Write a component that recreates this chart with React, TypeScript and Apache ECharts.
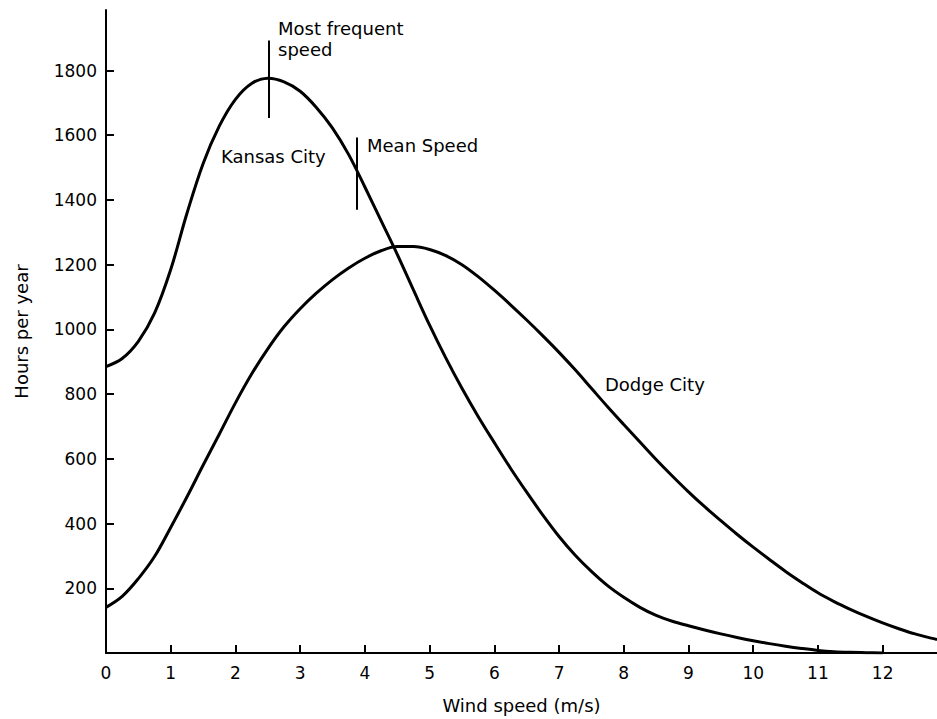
import React, { useEffect, useRef } from "react";
import * as echarts from "echarts";

const windSpeed = [
  0, 0.25, 0.5, 0.75, 1, 1.25, 1.5, 1.75, 2, 2.25, 2.5, 2.75, 3, 3.25, 3.5, 3.75,
  4, 4.25, 4.5, 4.75, 5, 5.25, 5.5, 5.75, 6, 6.25, 6.5, 6.75, 7, 7.25, 7.5, 7.75,
  8, 8.25, 8.5, 8.75, 9, 9.25, 9.5, 9.75, 10, 10.25, 10.5, 10.75, 11, 11.25, 11.5, 11.75,
  12, 12.25, 12.5, 12.75, 12.84,
];
const kansasCity = [
  885, 910, 963, 1050, 1185, 1358, 1512, 1628, 1711, 1760, 1776, 1765, 1736, 1686, 1622, 1540,
  1440, 1336, 1232, 1122, 1013, 912, 818, 731, 650, 571, 497, 426, 360, 302, 252, 208,
  172, 141, 116, 98, 84, 71, 59, 48, 38, 29, 21, 14, 8, 4, 2, 1,
  0, null, null, null, null,
];
const dodgeCity = [
  141, 175, 230, 298, 388, 482, 580, 676, 773, 862, 940, 1008, 1064, 1112, 1154, 1190,
  1220, 1243, 1256, 1256, 1247, 1228, 1200, 1163, 1121, 1076, 1029, 980, 929, 875, 818, 761,
  706, 652, 598, 547, 498, 452, 409, 367, 327, 289, 252, 218, 186, 159, 135, 113,
  93, 75, 59, 46, 42,
];
const xTicks = [0, 1, 2, 3, 4, 5, 6, 7, 8, 9, 10, 11, 12];
const yTicks = [200, 400, 600, 800, 1000, 1200, 1400, 1600, 1800];
const mostFrequent = { speed: 2.51, from: 1653, to: 1893 };
const meanSpeed = { speed: 3.87, from: 1370, to: 1593 };

const FONT = "DejaVu Sans";

export default function App() {
  const ref = useRef<HTMLDivElement>(null);
  useEffect(() => {
    if (!ref.current) return;
    const chart = echarts.init(ref.current, null, { renderer: "svg" });
    const pairs = (ys: (number | null)[]) => windSpeed.map((x, i) => [x, ys[i]]);
    const textStyle = { fill: "#000", font: `18px "${FONT}"`, verticalAlign: "middle" as const };
    chart.setOption({
      animation: false,
      backgroundColor: "#fff",
      grid: { left: 106, right: 0, top: 10, bottom: 65, containLabel: false },
      xAxis: {
        type: "value",
        min: 0,
        max: 12.84,
        interval: 1,
        name: "Wind speed (m/s)",
        nameLocation: "middle",
        nameGap: 43,
        nameTextStyle: { color: "#000", fontFamily: FONT, fontSize: 18, verticalAlign: "top" },
        axisLine: { show: true, lineStyle: { color: "#000", width: 2 } },
        axisTick: { show: true, inside: true, length: 8, lineStyle: { color: "#000", width: 2 }, customValues: xTicks },
        axisLabel: { color: "#000", fontFamily: FONT, fontSize: 17, margin: 11, customValues: xTicks, formatter: (v: number) => String(v) },
        splitLine: { show: false },
      },
      yAxis: {
        type: "value",
        min: 0,
        max: 1987,
        interval: 200,
        name: "Hours per year",
        nameLocation: "middle",
        nameGap: 76,
        nameRotate: 90,
        nameTextStyle: { color: "#000", fontFamily: FONT, fontSize: 18 },
        axisLine: { show: true, lineStyle: { color: "#000", width: 2 } },
        axisTick: { show: true, inside: true, length: 8, lineStyle: { color: "#000", width: 2 }, customValues: yTicks },
        axisLabel: { color: "#000", fontFamily: FONT, fontSize: 17, margin: 9, customValues: yTicks, formatter: (v: number) => String(v) },
        splitLine: { show: false },
      },
      series: [
        {
          name: "Kansas City",
          type: "line",
          data: pairs(kansasCity),
          smooth: 0.35,
          showSymbol: false,
          connectNulls: false,
          lineStyle: { color: "#000", width: 3 },
          itemStyle: { color: "#000" },
          markLine: {
            symbol: "none",
            silent: true,
            label: { show: false },
            lineStyle: { color: "#000", width: 2, type: "solid" },
            data: [
              [{ coord: [mostFrequent.speed, mostFrequent.from] }, { coord: [mostFrequent.speed, mostFrequent.to] }],
              [{ coord: [meanSpeed.speed, meanSpeed.from] }, { coord: [meanSpeed.speed, meanSpeed.to] }],
            ],
          },
        },
        {
          name: "Dodge City",
          type: "line",
          data: pairs(dodgeCity),
          smooth: 0.35,
          showSymbol: false,
          lineStyle: { color: "#000", width: 3 },
          itemStyle: { color: "#000" },
        },
      ],
      graphic: [
        { type: "text", left: 278, top: 18, style: { ...textStyle, text: "Most frequent\nspeed", lineHeight: 21, verticalAlign: "top" } },
        { type: "text", x: 367, y: 145, style: { ...textStyle, text: "Mean Speed" } },
        { type: "text", x: 221, y: 156, style: { ...textStyle, text: "Kansas City" } },
        { type: "text", x: 605, y: 384, style: { ...textStyle, text: "Dodge City" } },
      ],
    });
    return () => chart.dispose();
  }, []);
  return (
    <div
      ref={ref}
      style={{ position: "absolute", left: 0, top: 0, width: 937, height: 719, background: "#fff" }}
    />
  );
}
